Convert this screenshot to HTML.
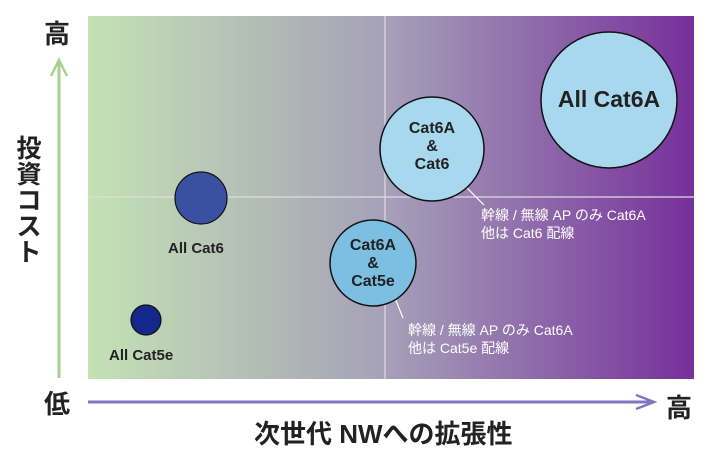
<!DOCTYPE html><html><head><meta charset="utf-8"><style>
body{margin:0;width:710px;height:452px;background:#fff;position:relative;overflow:hidden;font-family:"Liberation Sans","Noto Sans CJK JP",sans-serif}
.t{position:absolute;white-space:nowrap}
</style></head><body>
<svg width="710" height="452" style="position:absolute;left:0;top:0">
<defs><linearGradient id="g" x1="0" x2="1"><stop offset="0" stop-color="#c4e2b4"/><stop offset="0.5" stop-color="#a59fb8"/><stop offset="1" stop-color="#76309a"/></linearGradient></defs>
<rect x="88" y="16" width="606" height="363" fill="url(#g)"/>
<line x1="385" y1="16" x2="385" y2="379" stroke="#ddd" stroke-width="1.2"/>
<line x1="88" y1="197" x2="694" y2="197" stroke="#ddd" stroke-width="1.2"/>
<line x1="59" y1="378" x2="59" y2="60" stroke="#a8d08d" stroke-width="3"/>
<polyline points="51,76 59,60 67,76" fill="none" stroke="#a8d08d" stroke-width="2.5"/>
<line x1="88" y1="402" x2="654" y2="402" stroke="#8075c0" stroke-width="3"/>
<polyline points="636,395 654,402 636,409" fill="none" stroke="#8075c0" stroke-width="2.5"/>
<line x1="459" y1="180" x2="484" y2="205" stroke="#fff" stroke-width="1.2"/>
<line x1="395" y1="298" x2="403" y2="318" stroke="#fff" stroke-width="1.2"/>
<circle cx="146" cy="320" r="15" fill="#12288a" stroke="#111" stroke-width="1.2"/>
<circle cx="201" cy="198" r="26" fill="#3a50a0" stroke="#111" stroke-width="1.2"/>
<circle cx="432" cy="149" r="52" fill="#a8d8ee" stroke="#111" stroke-width="1.5"/>
<circle cx="373" cy="263" r="43" fill="#7cbfe2" stroke="#111" stroke-width="1.5"/>
<circle cx="609" cy="100" r="68" fill="#a8d8ee" stroke="#111" stroke-width="1.5"/>
</svg>
<div class="t" style="left:44px;top:14px;font-size:26px;font-weight:bold;color:#222">高</div>
<div class="t" style="left:44px;top:384px;font-size:26px;font-weight:bold;color:#222">低</div>
<div class="t" style="left:666px;top:388px;font-size:26px;font-weight:bold;color:#222">高</div>
<div class="t" style="left:14px;top:136px;width:30px;font-size:25px;font-weight:bold;color:#222;line-height:26px;white-space:normal;text-align:center">投<br>資<br>コ<br>ス<br>ト</div>
<div class="t" style="left:254px;top:414px;font-size:26px;font-weight:bold;color:#222">次世代 NWへの拡張性</div>
<div class="t" style="left:168px;top:240px;font-size:15px;font-weight:bold;color:#222">All Cat6</div>
<div class="t" style="left:109px;top:347px;font-size:15px;font-weight:bold;color:#222">All Cat5e</div>
<div class="t" style="left:541px;top:86px;width:136px;text-align:center;font-size:23px;font-weight:bold;color:#222">All Cat6A</div>
<div class="t" style="left:380px;top:120px;width:104px;text-align:center;font-size:16px;line-height:18px;font-weight:bold;color:#222">Cat6A<br>&amp;<br>Cat6</div>
<div class="t" style="left:330px;top:237px;width:86px;text-align:center;font-size:16px;line-height:18px;font-weight:bold;color:#222">Cat6A<br>&amp;<br>Cat5e</div>
<div class="t" style="left:481px;top:206px;font-size:14px;line-height:18px;color:#fff">幹線 / 無線 AP のみ Cat6A<br>他は Cat6 配線</div>
<div class="t" style="left:408px;top:321px;font-size:14px;line-height:18px;color:#fff">幹線 / 無線 AP のみ Cat6A<br>他は Cat5e 配線</div>
</body></html>
